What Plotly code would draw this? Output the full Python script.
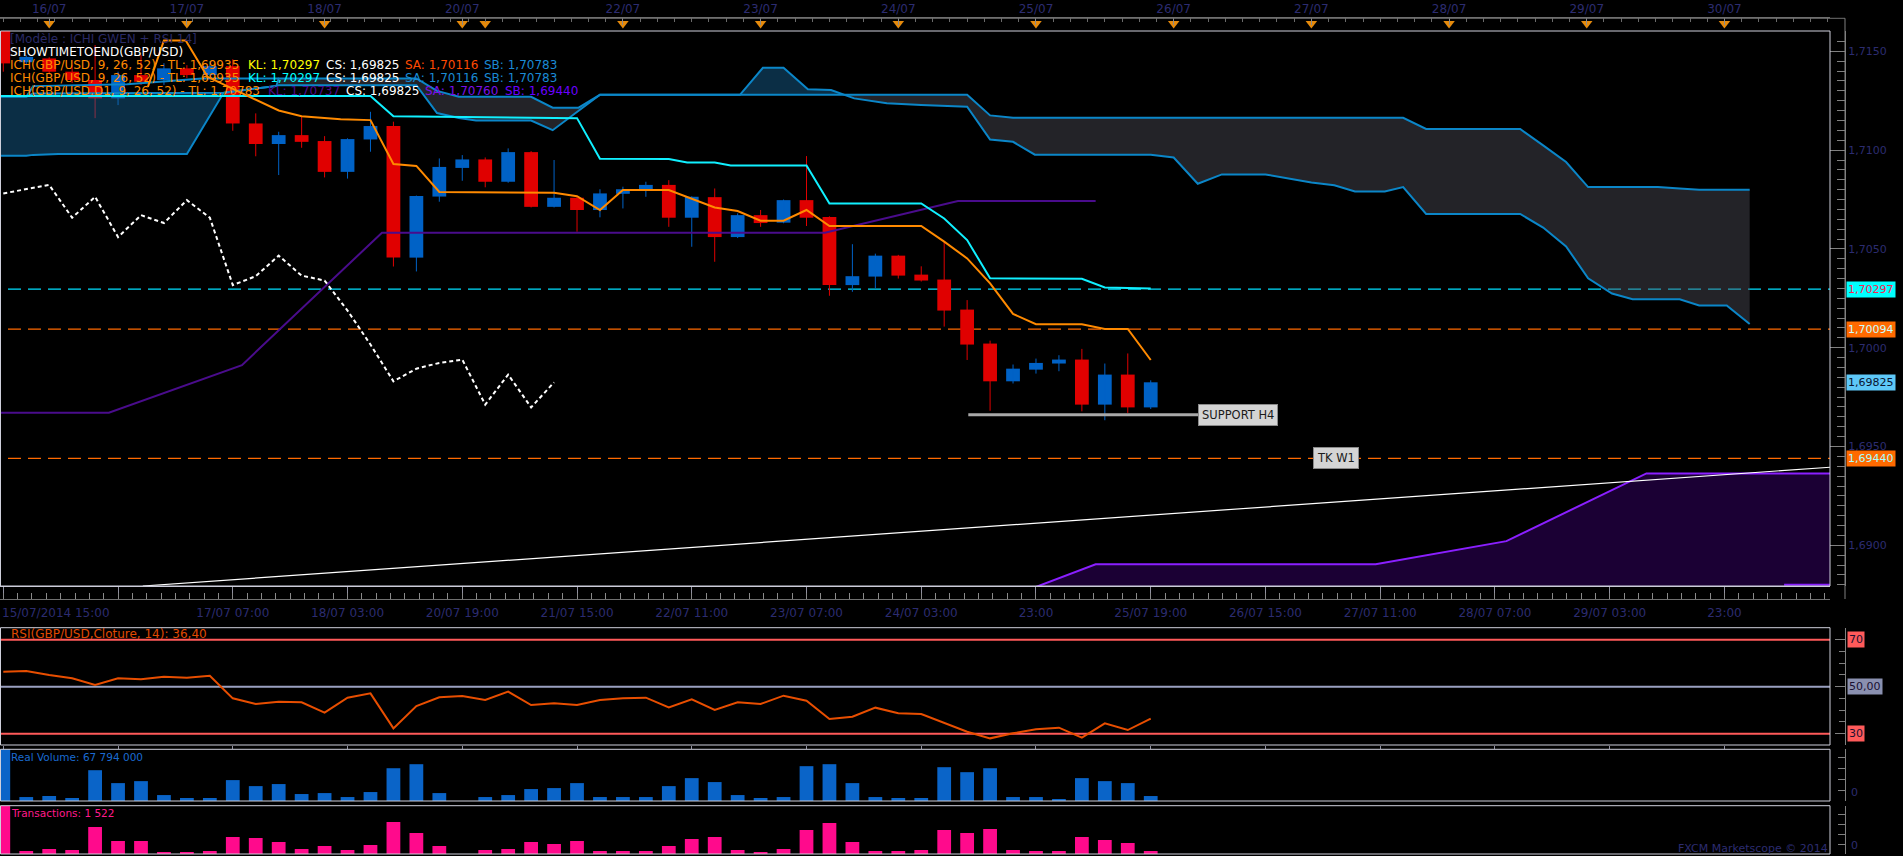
import plotly.graph_objects as go

W, H = 1903, 856
def fx(px): return px / W
def fy(py): return 1 - py / H

# ---------------- DATA ----------------
bars = list(range(51))
opens = [1.71680, 1.71445, 1.71464, 1.71397, 1.71355, 1.71262, 1.71380, 1.71355, 1.71414, 1.71380,
         1.71425, 1.71135, 1.71031, 1.71076, 1.71046, 1.70890, 1.71054, 1.71122, 1.70456, 1.70765,
         1.70910, 1.70953, 1.70840, 1.70990, 1.70713, 1.70759, 1.70697, 1.70779, 1.70802, 1.70824,
         1.70658, 1.70762, 1.70560, 1.70671, 1.70633, 1.70747, 1.70661, 1.70317, 1.70360, 1.70466,
         1.70370, 1.70345, 1.70193, 1.70021, 1.69830, 1.69889, 1.69920, 1.69940, 1.69712, 1.69864,
         1.69698]
highs = [1.71700, 1.71480, 1.71470, 1.71430, 1.71532, 1.71397, 1.71481, 1.71440, 1.71430, 1.71450,
         1.71460, 1.71186, 1.71093, 1.71172, 1.71071, 1.71060, 1.71194, 1.71144, 1.70770, 1.70958,
         1.70975, 1.70963, 1.71009, 1.70995, 1.70950, 1.70765, 1.70802, 1.70815, 1.70840, 1.70848,
         1.70766, 1.70806, 1.70680, 1.70697, 1.70750, 1.70970, 1.70665, 1.70524, 1.70476, 1.70470,
         1.70412, 1.70539, 1.70241, 1.70036, 1.69915, 1.69945, 1.69962, 1.69994, 1.69920, 1.69971,
         1.69835]
lows = [1.71397, 1.71430, 1.71390, 1.71340, 1.71162, 1.71228, 1.71330, 1.71330, 1.71365, 1.71360,
        1.71098, 1.70969, 1.70874, 1.71012, 1.70862, 1.70856, 1.70992, 1.70411, 1.70386, 1.70739,
        1.70845, 1.70812, 1.70835, 1.70710, 1.70710, 1.70587, 1.70660, 1.70705, 1.70764, 1.70612,
        1.70511, 1.70435, 1.70555, 1.70612, 1.70630, 1.70616, 1.70263, 1.70283, 1.70300, 1.70350,
        1.70335, 1.70107, 1.69938, 1.69681, 1.69819, 1.69869, 1.69881, 1.69678, 1.69633, 1.69670,
        1.69690]
closes = [1.71439, 1.71472, 1.71397, 1.71355, 1.71262, 1.71380, 1.71346, 1.71414, 1.71380, 1.71425,
          1.71135, 1.71031, 1.71076, 1.71042, 1.70890, 1.71056, 1.71122, 1.70456, 1.70768, 1.70915,
          1.70953, 1.70840, 1.70990, 1.70713, 1.70759, 1.70697, 1.70781, 1.70802, 1.70824, 1.70658,
          1.70764, 1.70560, 1.70671, 1.70631, 1.70747, 1.70658, 1.70317, 1.70362, 1.70466, 1.70365,
          1.70340, 1.70188, 1.70016, 1.69830, 1.69894, 1.69923, 1.69940, 1.69712, 1.69864, 1.69698,
          1.69825]

rsi = [56.40, 56.68, 54.98, 53.56, 50.72, 53.56, 53.14, 54.27, 53.84, 54.69,
       45.05, 42.64, 43.63, 43.35, 38.95, 45.33, 47.18, 32.28, 41.79, 45.48,
       46.04, 44.34, 47.89, 42.21, 42.92, 42.21, 44.34, 45.05, 45.33, 41.22,
       44.63, 40.09, 43.35, 42.64, 46.18, 44.06, 36.26, 37.25, 41.08, 38.67,
       38.38, 34.69, 30.86, 28.03, 30.16, 31.86, 32.57, 28.31, 34.41, 31.57,
       36.40]

real_volume_m = [760, 54, 68, 41, 420, 244, 271, 81, 41, 41,
                 285, 203, 231, 95, 108, 54, 122, 447, 502, 108,
                 0, 54, 81, 163, 176, 244, 54, 54, 54, 203,
                 312, 258, 81, 41, 54, 475, 502, 244, 54, 41,
                 41, 461, 393, 447, 54, 54, 27, 312, 271, 244,
                 67.794]

transactions = [26000, 1520, 2540, 2030, 13690, 6590, 6590, 1010, 1010, 1520,
                8620, 8110, 6080, 2540, 4060, 2030, 4560, 16220, 10650, 4060,
                0, 2030, 2540, 6080, 5070, 6590, 1520, 1520, 1520, 4060,
                7600, 8620, 2030, 1010, 2540, 12170, 15720, 6080, 1520, 1520,
                2030, 12170, 10650, 12680, 2030, 1520, 1520, 8620, 7100, 5580,
                1522]

# H4 Ichimoku cloud (spans shifted 26 bars forward)
cloud_x = [-0.15, 1.0, 1.3, 2.4, 8.0, 9.6, 11.9, 12.0, 18.0, 18.9, 19.85, 20.6, 23.0, 23.94,
           25.07, 26.0, 32.1, 33.1, 34.0, 35.06, 36.07, 36.65, 37.08, 38.5, 40.0, 42.0, 43.0,
           44.0, 44.95, 50.0, 51.0, 52.05, 53.1, 55.0, 56.0, 57.0, 58.0, 58.9, 60.2, 61.0,
           62.0, 66.1, 67.1, 68.1, 69.06, 70.1, 71.0, 72.1, 73.05, 73.9, 75.1, 76.1]
span_a = [1.71270, 1.71270, 1.71287, 1.71287, 1.71287, 1.71290, 1.71325, 1.71329, 1.71329, 1.71188,
          1.71163, 1.71150, 1.71150, 1.71101, 1.71199, 1.71280, 1.71280, 1.71417, 1.71417, 1.71308,
          1.71304, 1.71280, 1.71262, 1.71237, 1.71228, 1.71220, 1.71054, 1.71042, 1.70977, 1.70977,
          1.70963, 1.70830, 1.70877, 1.70877, 1.70856, 1.70836, 1.70822, 1.70791, 1.70791, 1.70813,
          1.70677, 1.70677, 1.70608, 1.70513, 1.70351, 1.70274, 1.70245, 1.70245, 1.70245, 1.70214,
          1.70214, 1.70120]
span_b = [1.70972, 1.70972, 1.70976, 1.70980, 1.70980, 1.71290, 1.71325, 1.71363, 1.71363, 1.71300,
          1.71270, 1.71270, 1.71270, 1.71215, 1.71215, 1.71280, 1.71280, 1.71280, 1.71280, 1.71280,
          1.71280, 1.71280, 1.71280, 1.71280, 1.71280, 1.71280, 1.71176, 1.71164, 1.71164, 1.71164,
          1.71164, 1.71164, 1.71164, 1.71164, 1.71164, 1.71164, 1.71164, 1.71164, 1.71164, 1.71164,
          1.71107, 1.71107, 1.71024, 1.70940, 1.70813, 1.70813, 1.70813, 1.70813, 1.70806, 1.70800,
          1.70800, 1.70800]
bull_ranges = [(-0.15, 9.6), (32.1, 36.65)]
bear_ranges = [(9.6, 32.1), (36.65, 76.1)]
span_extra_x = [1.0, 1.3, 5.4, 8.66, 12.0]
span_extra_y = [1.71270, 1.71324, 1.71334, 1.71363, 1.71363]

kijun_x = [-0.15, 16.0, 17.0, 25.0, 26.0, 29.0, 29.8, 31.0, 31.7, 35.0, 36.0, 40.0, 41.0, 42.0,
           43.0, 47.0, 48.0, 50.0]
kijun_y = [1.71274, 1.71274, 1.71172, 1.71162, 1.70957, 1.70955, 1.70937, 1.70937, 1.70922, 1.70922,
           1.70730, 1.70730, 1.70654, 1.70545, 1.70351, 1.70349, 1.70305, 1.70300]

tenkan_x = [6.3, 7.0, 7.95, 8.9, 9.8, 11.0, 12.0, 13.0, 14.7, 16.0, 17.0, 18.0, 19.0, 24.0, 25.0,
            26.0, 27.0, 29.0, 30.0, 31.0, 32.0, 33.0, 34.0, 35.0, 36.0, 40.0, 41.0, 42.0, 43.0,
            44.0, 45.0, 47.0, 48.0, 49.0, 50.0]
tenkan_y = [1.71320, 1.71555, 1.71555, 1.71371, 1.71321, 1.71257, 1.71201, 1.71172, 1.71156, 1.71152,
            1.70930, 1.70920, 1.70788, 1.70784, 1.70767, 1.70697, 1.70798, 1.70798, 1.70756, 1.70710,
            1.70692, 1.70643, 1.70643, 1.70697, 1.70616, 1.70616, 1.70537, 1.70452, 1.70326, 1.70171,
            1.70119, 1.70119, 1.70095, 1.70095, 1.69938]

d1_kijun_x = [-0.15, 4.6, 10.4, 16.5, 35.8, 41.6, 47.6]
d1_kijun_y = [1.69671, 1.69671, 1.69912, 1.70582, 1.70582, 1.70742, 1.70742]

d1_span_x = [44.9, 47.6, 59.8, 65.5, 71.6, 79.6]
d1_span_y = [1.68785, 1.68904, 1.68904, 1.69021, 1.69364, 1.69364]
d1_span2_x = [77.6, 79.6]
d1_span2_y = [1.68800, 1.68800]

trend_x = [6.08, 79.6]
trend_y = [1.68794, 1.69395]

support_x = [42.05, 52.06]
support_level = 1.69661
level_kijun = 1.70297
level_h4 = 1.70094
level_tk_w1 = 1.69440
last_close = 1.69825
tk_w1_label_bar = 57.06

top_day_bars = [2, 8, 14, 20, 27, 33, 39, 45, 51, 57, 63, 69, 75]
top_day_labels = ["16/07", "17/07", "18/07", "20/07", "22/07", "23/07", "24/07", "25/07",
                  "26/07", "27/07", "28/07", "29/07", "30/07"]
session_marker_bars = [2, 8, 14, 20, 21, 27, 33, 39, 45, 51, 57, 63, 69, 75]
bottom_tick_bars = [0, 5, 10, 15, 20, 25, 30, 35, 40, 45, 50, 55, 60, 65, 70, 75]
bottom_tick_labels = ["15/07/2014 15:00", "", "17/07 07:00", "18/07 03:00", "20/07 19:00",
                      "21/07 15:00", "22/07 11:00", "23/07 07:00", "24/07 03:00", "23:00",
                      "25/07 19:00", "26/07 15:00", "27/07 11:00", "28/07 07:00", "29/07 03:00", "23:00"]
price_ticks = [1.690, 1.695, 1.700, 1.705, 1.710, 1.715]
price_tick_labels = ["1,6900", "1,6950", "1,7000", "1,7050", "1,7100", "1,7150"]

# ---------------- STYLE / GEOMETRY ----------------
BG = "#000000"
AXTXT = "#2c2c70"
RED = "#e00000"
BLUE = "#0062c6"
CLOUD_LINE = "#0b86c8"
FONT = "DejaVu Sans"
X_RANGE = [-0.144, 79.6]
XDOM = [0, fx(1830)]
AXIS_X = fx(1845)
MAIN_DOM = [fy(586), fy(31)]
RSI_DOM = [fy(745), fy(627.7)]
VOL_DOM = [fy(801), fy(749.3)]
TRN_DOM = [fy(854), fy(805.7)]
TOP_DOM = [fy(31), fy(18.3)]
TBAND_DOM = [fy(599), fy(586)]

fig = go.Figure()

# candle wicks
for col, cond in ((BLUE, lambda i: closes[i] >= opens[i]), (RED, lambda i: closes[i] < opens[i])):
    xs, ys = [], []
    for i in bars:
        if cond(i):
            xs += [bars[i], bars[i], None]
            ys += [lows[i], highs[i], None]
    fig.add_trace(go.Scatter(x=xs, y=ys, mode="lines", line=dict(color=col, width=1),
                             hoverinfo="skip", xaxis="x", yaxis="y"))

# candle bodies
fig.add_trace(go.Bar(
    x=bars,
    y=[max(abs(c - o), 0.00003) for o, c in zip(opens, closes)],
    base=[min(o, c) for o, c in zip(opens, closes)],
    width=0.6,
    marker=dict(color=[BLUE if c >= o else RED for o, c in zip(opens, closes)], line=dict(width=0)),
    hoverinfo="skip", xaxis="x", yaxis="y"))

# cloud fills
def seg(lo, hi):
    idx = [k for k, xv in enumerate(cloud_x) if lo - 1e-9 <= xv <= hi + 1e-9]
    return [cloud_x[k] for k in idx], [span_a[k] for k in idx], [span_b[k] for k in idx]

for ranges, fcol in ((bear_ranges, "rgba(80,82,92,0.43)"), (bull_ranges, "rgba(26,107,160,0.43)")):
    for lo, hi in ranges:
        sx, sa, sb = seg(lo, hi)
        fig.add_trace(go.Scatter(x=sx, y=sb, mode="lines", line=dict(width=0, color=fcol),
                                 hoverinfo="skip", xaxis="x", yaxis="y"))
        fig.add_trace(go.Scatter(x=sx, y=sa, mode="lines", line=dict(width=0, color=fcol),
                                 fill="tonexty", fillcolor=fcol, hoverinfo="skip",
                                 xaxis="x", yaxis="y"))

# D1 cloud (bottom right)
fig.add_trace(go.Scatter(x=d1_span_x, y=d1_span_y, mode="lines", line=dict(color="#8a1fff", width=2),
                         fill="tozeroy", fillcolor="#1b0034", hoverinfo="skip", xaxis="x", yaxis="y"))
fig.add_trace(go.Scatter(x=d1_span2_x, y=d1_span2_y, mode="lines", line=dict(color="#8a1fff", width=2),
                         hoverinfo="skip", xaxis="x", yaxis="y"))

# cloud edge lines
for xs, ys in ((cloud_x, span_a), (cloud_x, span_b), (span_extra_x, span_extra_y)):
    fig.add_trace(go.Scatter(x=xs, y=ys, mode="lines", line=dict(color=CLOUD_LINE, width=2),
                             hoverinfo="skip", xaxis="x", yaxis="y"))

# D1 kijun
fig.add_trace(go.Scatter(x=d1_kijun_x, y=d1_kijun_y, mode="lines", line=dict(color="#4a0c8c", width=2),
                         hoverinfo="skip", xaxis="x", yaxis="y"))
# H4 kijun
fig.add_trace(go.Scatter(x=kijun_x, y=kijun_y, mode="lines", line=dict(color="#10f0ff", width=2),
                         hoverinfo="skip", xaxis="x", yaxis="y"))
# H4 tenkan
fig.add_trace(go.Scatter(x=tenkan_x, y=tenkan_y, mode="lines", line=dict(color="#ff8a00", width=2),
                         hoverinfo="skip", xaxis="x", yaxis="y"))
# chikou span = closes shifted back 26 bars
fig.add_trace(go.Scatter(x=bars[:len(bars) - 26], y=closes[26:], mode="lines",
                         line=dict(color="#ffffff", width=2, dash="4px,3px"),
                         hoverinfo="skip", xaxis="x", yaxis="y"))
# trend line
fig.add_trace(go.Scatter(x=trend_x, y=trend_y, mode="lines", line=dict(color="#ffffff", width=1.2),
                         hoverinfo="skip", xaxis="x", yaxis="y"))
# support H4
fig.add_trace(go.Scatter(x=support_x, y=[support_level, support_level], mode="lines",
                         line=dict(color="#a8a8a8", width=3), hoverinfo="skip", xaxis="x", yaxis="y"))

# RSI
fig.add_trace(go.Scatter(x=bars, y=rsi, mode="lines", line=dict(color="#e84e00", width=2),
                         hoverinfo="skip", xaxis="x3", yaxis="y3"))
# volume / transactions
fig.add_trace(go.Bar(x=bars, y=real_volume_m, width=0.6, marker=dict(color="#0a64c8", line=dict(width=0)),
                     hoverinfo="skip", xaxis="x4", yaxis="y4"))
fig.add_trace(go.Bar(x=bars, y=transactions, width=0.6, marker=dict(color="#ff0a8c", line=dict(width=0)),
                     hoverinfo="skip", xaxis="x5", yaxis="y5"))

# session markers on top axis band
fig.add_trace(go.Scatter(x=session_marker_bars, y=[0.6] * len(session_marker_bars), mode="markers",
                         marker=dict(symbol="triangle-down", size=10, color="#e58a0c", line=dict(width=0)),
                         hoverinfo="skip", xaxis="x2", yaxis="y6", cliponaxis=False))
# helper for the bottom tick band
fig.add_trace(go.Scatter(x=[0], y=[0.5], mode="markers", marker=dict(opacity=0), hoverinfo="skip",
                         xaxis="x6", yaxis="y7"))

tickfont = dict(family=FONT, size=11, color=AXTXT)
datefont = dict(family=FONT, size=12, color=AXTXT)

common_x = dict(domain=XDOM, showgrid=False, zeroline=False)
layout = dict(
    width=W, height=H, margin=dict(l=0, r=0, t=0, b=0),
    paper_bgcolor=BG, plot_bgcolor=BG, showlegend=False, barmode="overlay",
    font=dict(family=FONT, size=11, color=AXTXT), hovermode=False,
    xaxis=dict(**common_x, range=X_RANGE, anchor="y", showline=True, linecolor="#c8c8d8", linewidth=1,
               ticks="outside", ticklen=13, tickcolor="#9090a0",
               tickvals=bottom_tick_bars, ticktext=[""] + bottom_tick_labels[1:],
               tickfont=datefont, ticklabelstandoff=3),
    xaxis2=dict(**common_x, matches="x", anchor="y6", side="top", showline=True, linecolor="#707070",
                ticks="inside", ticklen=7, tickcolor="#8a8a8a",
                tickvals=top_day_bars, ticktext=top_day_labels, tickfont=datefont,
                minor=dict(ticks="inside", ticklen=4, tickcolor="#6a6a6a", tick0=0, dtick=0.75)),
    xaxis3=dict(**common_x, matches="x", anchor="y3", showline=False, ticks="outside", ticklen=3,
                tickcolor="#9090a0", tickmode="linear", tick0=0, dtick=5, showticklabels=False),
    xaxis4=dict(**common_x, matches="x", anchor="y4", showline=False, ticks="", showticklabels=False),
    xaxis5=dict(**common_x, matches="x", anchor="y5", showline=False, ticks="", showticklabels=False),
    xaxis6=dict(**common_x, matches="x", anchor="y7", showline=True, linecolor="#707070",
                ticks="inside", ticklen=6, tickcolor="#8a8a8a", tickmode="linear", tick0=0, dtick=0.625,
                showticklabels=False),
    yaxis=dict(domain=MAIN_DOM, range=[1.68794, 1.71603], anchor="free", position=AXIS_X, side="right",
               showline=True, linecolor="#808080", ticks="inside", ticklen=15, tickcolor="#808080",
               tickvals=price_ticks, ticktext=price_tick_labels, tickfont=tickfont,
               showgrid=False, zeroline=False,
               minor=dict(ticks="inside", ticklen=8, tickcolor="#808080", tick0=1.69, dtick=0.0005)),
    yaxis3=dict(domain=RSI_DOM, range=[25.2, 75.1], anchor="free", position=AXIS_X, side="right",
                showline=True, linecolor="#808080", ticks="inside", ticklen=10, tickcolor="#808080",
                tickvals=[30, 50, 70], showticklabels=False, showgrid=False, zeroline=False,
                minor=dict(ticks="inside", ticklen=6, tickcolor="#808080", tick0=0, dtick=5)),
    yaxis4=dict(domain=VOL_DOM, range=[0, 705], anchor="free", position=AXIS_X, side="right",
                showline=True, linecolor="#808080", ticks="inside", ticklen=7, tickcolor="#808080",
                tickmode="linear", tick0=0, dtick=150, showticklabels=False, showgrid=False, zeroline=False),
    yaxis5=dict(domain=TRN_DOM, range=[0, 24500], anchor="free", position=AXIS_X, side="right",
                showline=True, linecolor="#808080", ticks="inside", ticklen=7, tickcolor="#808080",
                tickmode="linear", tick0=0, dtick=5000, showticklabels=False, showgrid=False, zeroline=False),
    yaxis6=dict(domain=TOP_DOM, range=[0, 1], anchor="x2", visible=False),
    yaxis7=dict(domain=TBAND_DOM, range=[0, 1], anchor="x6", visible=False),
)
fig.update_layout(**layout)

shapes = []
FR = "#cfd0dc"
def prect(x0, y0, x1, y1, col, w=1):
    shapes.append(dict(type="rect", xref="paper", yref="paper", x0=x0, y0=y0, x1=x1, y1=y1,
                       line=dict(color=col, width=w), fillcolor="rgba(0,0,0,0)", layer="above"))
def pline(x0, y0, x1, y1, col, w=1):
    shapes.append(dict(type="line", xref="paper", yref="paper", x0=x0, y0=y0, x1=x1, y1=y1,
                       line=dict(color=col, width=w), layer="above"))

prect(fx(0.5), fy(586), fx(1830), fy(31), FR)
pline(0, fy(18.3), AXIS_X, fy(18.3), "#707070")
pline(AXIS_X, fy(18.3), AXIS_X, fy(599), "#808080")
prect(fx(0.5), fy(745), fx(1830), fy(627.7), FR)
prect(fx(0.5), fy(801), fx(1830), fy(749.3), FR)
prect(fx(0.5), fy(854), fx(1830), fy(805.7), FR)

# level lines (dashed)
for lvl, col in ((level_kijun, "#00e0ff"), (level_h4, "#ff6a00"), (level_tk_w1, "#ff6a00")):
    shapes.append(dict(type="line", xref="paper", yref="y", x0=fx(8), x1=fx(1830), y0=lvl, y1=lvl,
                       line=dict(color=col, width=1.3, dash="13px,7px"), layer="below"))
# RSI levels
for lvl, col in ((70, "#ff5a5a"), (50, "#9aa0c0"), (30, "#ff5a5a")):
    shapes.append(dict(type="line", xref="paper", yref="y3", x0=0, x1=fx(1830), y0=lvl, y1=lvl,
                       line=dict(color=col, width=2), layer="below"))
fig.update_layout(shapes=shapes)

ann = []
def ptext(x, y, text, color, size=12, xanchor="left", yref="paper", yanchor="middle", **kw):
    ann.append(dict(xref="paper", yref=yref, x=x, y=y, text=text, showarrow=False, xanchor=xanchor,
                    yanchor=yanchor, font=dict(family=FONT, size=size, color=color), **kw))

# legend lines
ptext(fx(8), fy(39.3), "[Modèle : ICHI GWEN + RSI 14]", "#2a2a66")
ptext(fx(8), fy(52.3), "SHOWTIMETOEND(GBP/USD)", "#ffffff")
rows = [
    (fy(65), [(8, "ICH(GBP/USD, 9, 26, 52) - TL: 1,69935", "#ff8a00"), (246, "KL: 1,70297", "#ffff00"),
              (324, "CS: 1,69825", "#ffffff"), (403, "SA: 1,70116", "#ff4a00"), (482, "SB: 1,70783", "#1a8ad4")]),
    (fy(78), [(8, "ICH(GBP/USD, 9, 26, 52) - TL: 1,69935", "#ff8a00"), (246, "KL: 1,70297", "#00ffff"),
              (324, "CS: 1,69825", "#ffffff"), (403, "SA: 1,70116", "#1a8ad4"), (482, "SB: 1,70783", "#1a8ad4")]),
    (fy(91), [(8, "ICH(GBP/USD.D1, 9, 26, 52) - TL: 1,70783", "#ff8a00"), (266, "KL: 1,70737", "#4b0a8e"),
              (344, "CS: 1,69825", "#ffffff"), (423, "SA: 1,70760", "#7a10e8"), (503, "SB: 1,69440", "#6a00ff")]),
]
for yy, segs in rows:
    for xpx, txt, col in segs:
        ptext(fx(xpx), yy, txt, col)

# bottom-left date label (first tick)
ptext(fx(0), fy(613), bottom_tick_labels[0], AXTXT, size=12)

# price boxes on right axis
for val, bg, fg in ((level_kijun, "#00ffff", "#ff2050"), (level_h4, "#ff6a00", "#c8ffff"),
                    (last_close, "#5ec8f8", "#0a1430"), (level_tk_w1, "#ff6a00", "#a8ffff")):
    ann.append(dict(xref="paper", yref="y", x=fx(1846), y=val, xanchor="left", yanchor="middle",
                    text=f"{val:.5f}".replace(".", ","), showarrow=False, bgcolor=bg, borderpad=1,
                    font=dict(family=FONT, size=11, color=fg)))
# RSI boxes
for val, txt, bg in ((70, "70", "#ff5a5a"), (50, "50,00", "#8a90b0"), (30, "30", "#ff5a5a")):
    ann.append(dict(xref="paper", yref="y3", x=fx(1847), y=val, xanchor="left", yanchor="middle",
                    text=txt, showarrow=False, bgcolor=bg, borderpad=1,
                    font=dict(family=FONT, size=11, color="#1a1030")))
# zero labels
ptext(fx(1849), 0, "0", AXTXT, size=11, yref="y4", yanchor="bottom")
ptext(fx(1849), 0, "0", AXTXT, size=11, yref="y5", yanchor="bottom")

# support / TK W1 labels
ann.append(dict(xref="x", yref="y", x=support_x[1], y=support_level, xanchor="left", yanchor="middle",
                text="SUPPORT H4", showarrow=False, bgcolor="#d4d4d4", bordercolor="#8a8a8a",
                borderwidth=1, borderpad=3, font=dict(family=FONT, size=11.5, color="#1a1a1a")))
ann.append(dict(xref="x", yref="y", x=tk_w1_label_bar, y=level_tk_w1, xanchor="left", yanchor="middle",
                text="TK W1", showarrow=False, bgcolor="#d4d4d4", bordercolor="#8a8a8a",
                borderwidth=1, borderpad=3, font=dict(family=FONT, size=11.5, color="#1a1a1a")))

# panel titles
ptext(fx(9), fy(634), "RSI(GBP/USD,Cloture, 14): 36,40", "#e04a00", size=12)
ptext(fx(9), fy(757), "Real Volume: 67 794 000", "#1a6ad0", size=10.5)
ptext(fx(9), fy(813), "Transactions: 1 522", "#ff1a8c", size=10.5)
ptext(fx(1830), fy(848), "FXCM Marketscope © 2014", AXTXT, size=11, xanchor="right")

fig.update_layout(annotations=ann)

fig.write_html("out.html", config={"displayModeBar": False},
               post_script="document.body.style.margin='0';document.body.style.overflow='hidden';")
